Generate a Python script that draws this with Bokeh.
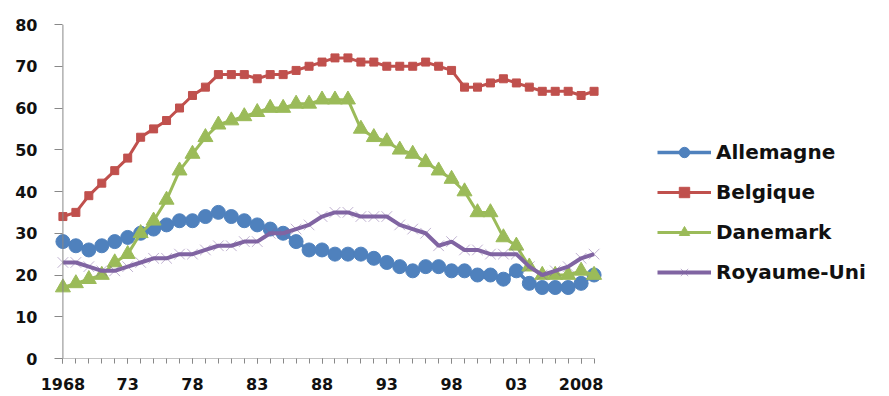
from bokeh.plotting import figure
from bokeh.models import Range1d, FixedTicker, Legend, LegendItem, Span
from bokeh.embed import file_html
from bokeh.resources import INLINE

years = list(range(1968, 2010))
allemagne = [28, 27, 26, 27, 28, 29, 30, 31, 32, 33,
             33, 34, 35, 34, 33, 32, 31, 30, 28, 26,
             26, 25, 25, 25, 24, 23, 22, 21, 22, 22,
             21, 21, 20, 20, 19, 21, 18, 17, 17, 17,
             18, 20]
belgique = [34, 35, 39, 42, 45, 48, 53, 55, 57, 60,
            63, 65, 68, 68, 68, 67, 68, 68, 69, 70,
            71, 72, 72, 71, 71, 70, 70, 70, 71, 70,
            69, 65, 65, 66, 67, 66, 65, 64, 64, 64,
            63, 64]
danemark = [17, 18, 19, 20, 23, 25, 30, 33, 38, 45,
            49, 53, 56, 57, 58, 59, 60, 60, 61, 61,
            62, 62, 62, 55, 53, 52, 50, 49, 47, 45,
            43, 40, 35, 35, 29, 27, 22, 20, 20, 20,
            21, 20]
royaume_uni = [23, 23, 22, 21, 21, 22, 23, 24, 24, 25,
               25, 26, 27, 27, 28, 28, 30, 30, 31, 32,
               34, 35, 35, 34, 34, 34, 32, 31, 30, 27,
               28, 26, 26, 25, 25, 25, 22, 20, 21, 22,
               24, 25]

x_major_ticks = [1968, 1973, 1978, 1983, 1988, 1993, 1998, 2003, 2008]
x_tick_labels = ["1968", "73", "78", "83", "88", "93", "98", "03", "2008"]
y_ticks = [0, 10, 20, 30, 40, 50, 60, 70, 80]

BLUE = "#4F81BD"
RED = "#C0504D"
GREEN = "#9BBB59"
PURPLE = "#8064A2"
AXIS = "#888888"
FONT = "DejaVu Sans"

# frame spans to the right edge so the legend (drawn inside the frame) is not clipped
FRAME_W = 889 - 54
PX_PER_YEAR = 12.955
x_start = 1967.35
x_end = x_start + FRAME_W / PX_PER_YEAR

p = figure(width=889, height=396, output_backend="svg", toolbar_location=None,
           x_range=Range1d(x_start, x_end), y_range=Range1d(0, 80),
           min_border_left=54, min_border_right=0,
           min_border_top=24, min_border_bottom=38)
p.outline_line_color = None
p.grid.visible = False
p.background_fill_color = "white"
p.border_fill_color = "white"

yax = p.yaxis[0]
yax.ticker = FixedTicker(ticks=y_ticks)
yax.axis_line_color = None
yax.major_tick_in = 8
yax.major_tick_out = 0
yax.minor_tick_line_color = None
yax.major_tick_line_color = AXIS
yax.major_label_standoff = 17
yax.major_label_text_font = FONT
yax.major_label_text_font_style = "bold"
yax.major_label_text_font_size = "16px"
yax.major_label_text_color = "#111111"

xax = p.xaxis[0]
xax.ticker = FixedTicker(ticks=x_major_ticks, minor_ticks=years)
xax.major_label_overrides = {t: l for t, l in zip(x_major_ticks, x_tick_labels)}
xax.axis_line_color = None
xax.major_tick_in = 0
xax.major_tick_out = 5
xax.minor_tick_in = 0
xax.minor_tick_out = 5
xax.major_tick_line_color = AXIS
xax.minor_tick_line_color = AXIS
xax.major_label_standoff = 14
xax.major_label_text_font = FONT
xax.major_label_text_font_style = "bold"
xax.major_label_text_font_size = "16px"
xax.major_label_text_color = "#111111"

# axis lines
p.add_layout(Span(location=years[0], dimension="height", line_color=AXIS, line_width=1))
p.segment(x0=[years[0]], y0=[0], x1=[years[-1]], y1=[0], line_color=AXIS, line_width=1)

# series
l1 = p.line(years, allemagne, line_color=BLUE, line_width=3.5)
m1 = p.scatter(years, allemagne, marker="circle", size=14, fill_color=BLUE, line_color=BLUE)
l2 = p.line(years, belgique, line_color=RED, line_width=3)
m2 = p.scatter(years, belgique, marker="square", size=8, fill_color=RED, line_color=RED)
l3 = p.line(years, danemark, line_color=GREEN, line_width=3)
m3 = p.scatter(years, danemark, marker="triangle", size=15, fill_color=GREEN, line_color=GREEN)
l4 = p.line(years, royaume_uni, line_color=PURPLE, line_width=4)
m4 = p.scatter(years, royaume_uni, marker="x", size=15, line_color=PURPLE, line_alpha=0.5, line_width=1)

legend = Legend(items=[
    LegendItem(label="Allemagne", renderers=[l1, m1]),
    LegendItem(label="Belgique", renderers=[l2, m2]),
    LegendItem(label="Danemark", renderers=[l3, m3]),
    LegendItem(label="Royaume-Uni", renderers=[l4, m4]),
], location=(603, 73))
legend.border_line_color = None
legend.background_fill_alpha = 0
legend.padding = 0
legend.margin = 0
legend.spacing = 14
legend.glyph_width = 54
legend.glyph_height = 26
legend.label_height = 20
legend.label_standoff = 5
legend.label_text_font = FONT
legend.label_text_font_style = "bold"
legend.label_text_font_size = "20px"
legend.label_text_color = "#111111"
p.add_layout(legend, "center")

open("out.html", "w").write(file_html(p, INLINE))
